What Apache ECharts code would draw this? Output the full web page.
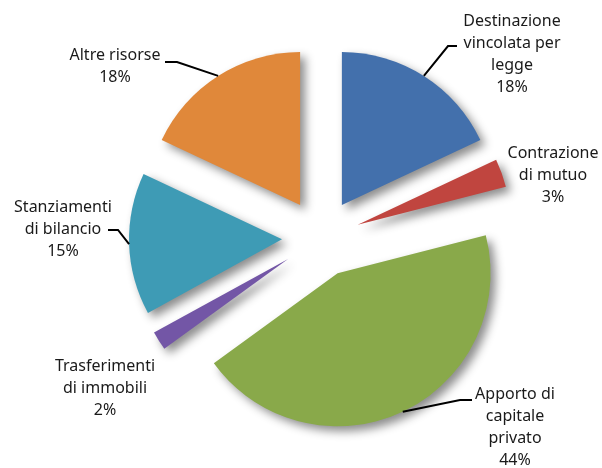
<!DOCTYPE html>
<html>
<head>
<meta charset="utf-8">
<script src="https://cdn.jsdelivr.net/npm/echarts@6/dist/echarts.min.js"></script>
<style>
  html, body { margin: 0; padding: 0; background: #fff; }
  #chart { width: 602px; height: 468px; }
</style>
</head>
<body>
<div id="chart"></div>
<script>
const names = ['Destinazione\nvincolata per\nlegge', 'Contrazione\ndi mutuo', 'Apporto di\ncapitale\nprivato', 'Trasferimenti\ndi immobili', 'Stanziamenti\ndi bilancio', 'Altre risorse'];
const values = [18, 3, 44, 2, 15, 18];
const colors = ['#4370ac', '#c0453f', '#89a94a', '#7356a6', '#3e9bb5', '#e0883a'];

// where each label block sits (centre) and where its leader line bends/ends
const labelPos = [[512, 54], [553, 175], [515, 427], [105, 388], [63, 229], [115, 66]];
const leaderBend = [[448, 46], null, [460, 400], null, [118, 230], [177, 62]];
const leaderEnd = [[457, 46], null, [472, 400], null, [108, 230], [165, 62]];

const cx = 321, cy = 238, radius = 153, explode = 39;
const total = values.reduce((a, b) => a + b, 0);

// point on the outer rim of an exploded slice, on its bisector
function rimPoint(i) {
    let before = 0;
    for (let k = 0; k < i; k++) before += values[k];
    let mid = (before + values[i] / 2) / total * Math.PI * 2;
    let d = radius + explode;
    return [cx + d * Math.sin(mid), cy - d * Math.cos(mid)];
}

var myChart = echarts.init(document.getElementById('chart'));
let option = {
    animation: false,
    series: [
        {
            // exploded slices
            type: 'pie',
            center: [cx, cy],
            radius: radius,
            startAngle: 90,
            clockwise: true,
            selectedMode: 'multiple',
            selectedOffset: explode,
            emphasis: { disabled: true },
            itemStyle: {
                shadowBlur: 10,
                shadowOffsetX: 5,
                shadowOffsetY: 5,
                shadowColor: 'rgba(0,0,0,0.45)'
            },
            label: { show: false },
            labelLine: { show: false },
            data: values.map((v, i) => ({
                name: names[i],
                value: v,
                selected: true,
                itemStyle: { color: colors[i] }
            }))
        },
        {
            // same data again, invisible, only carries the labels
            type: 'pie',
            center: [cx, cy],
            radius: radius,
            startAngle: 90,
            clockwise: true,
            silent: true,
            z: 3,
            emphasis: { disabled: true },
            itemStyle: { color: 'rgba(0,0,0,0)' },
            label: {
                show: true,
                position: 'outside',
                formatter: '{b}\n{d}%',
                fontFamily: 'Noto Sans',
                fontSize: 16,
                lineHeight: 22,
                color: '#1a1a1a',
                overflow: 'none'
            },
            labelLine: {
                show: true,
                lineStyle: { color: '#000', width: 2 }
            },
            labelLayout: function (p) {
                let i = p.dataIndex;
                let out = {
                    x: labelPos[i][0],
                    y: labelPos[i][1],
                    align: 'center',
                    verticalAlign: 'middle'
                };
                if (leaderBend[i]) {
                    out.labelLinePoints = [rimPoint(i), leaderBend[i], leaderEnd[i]];
                }
                return out;
            },
            data: values.map((v, i) => ({
                name: names[i],
                value: v,
                labelLine: { show: leaderBend[i] != null }
            }))
        }
    ]
};
myChart.setOption(option);
</script>
</body>
</html>
